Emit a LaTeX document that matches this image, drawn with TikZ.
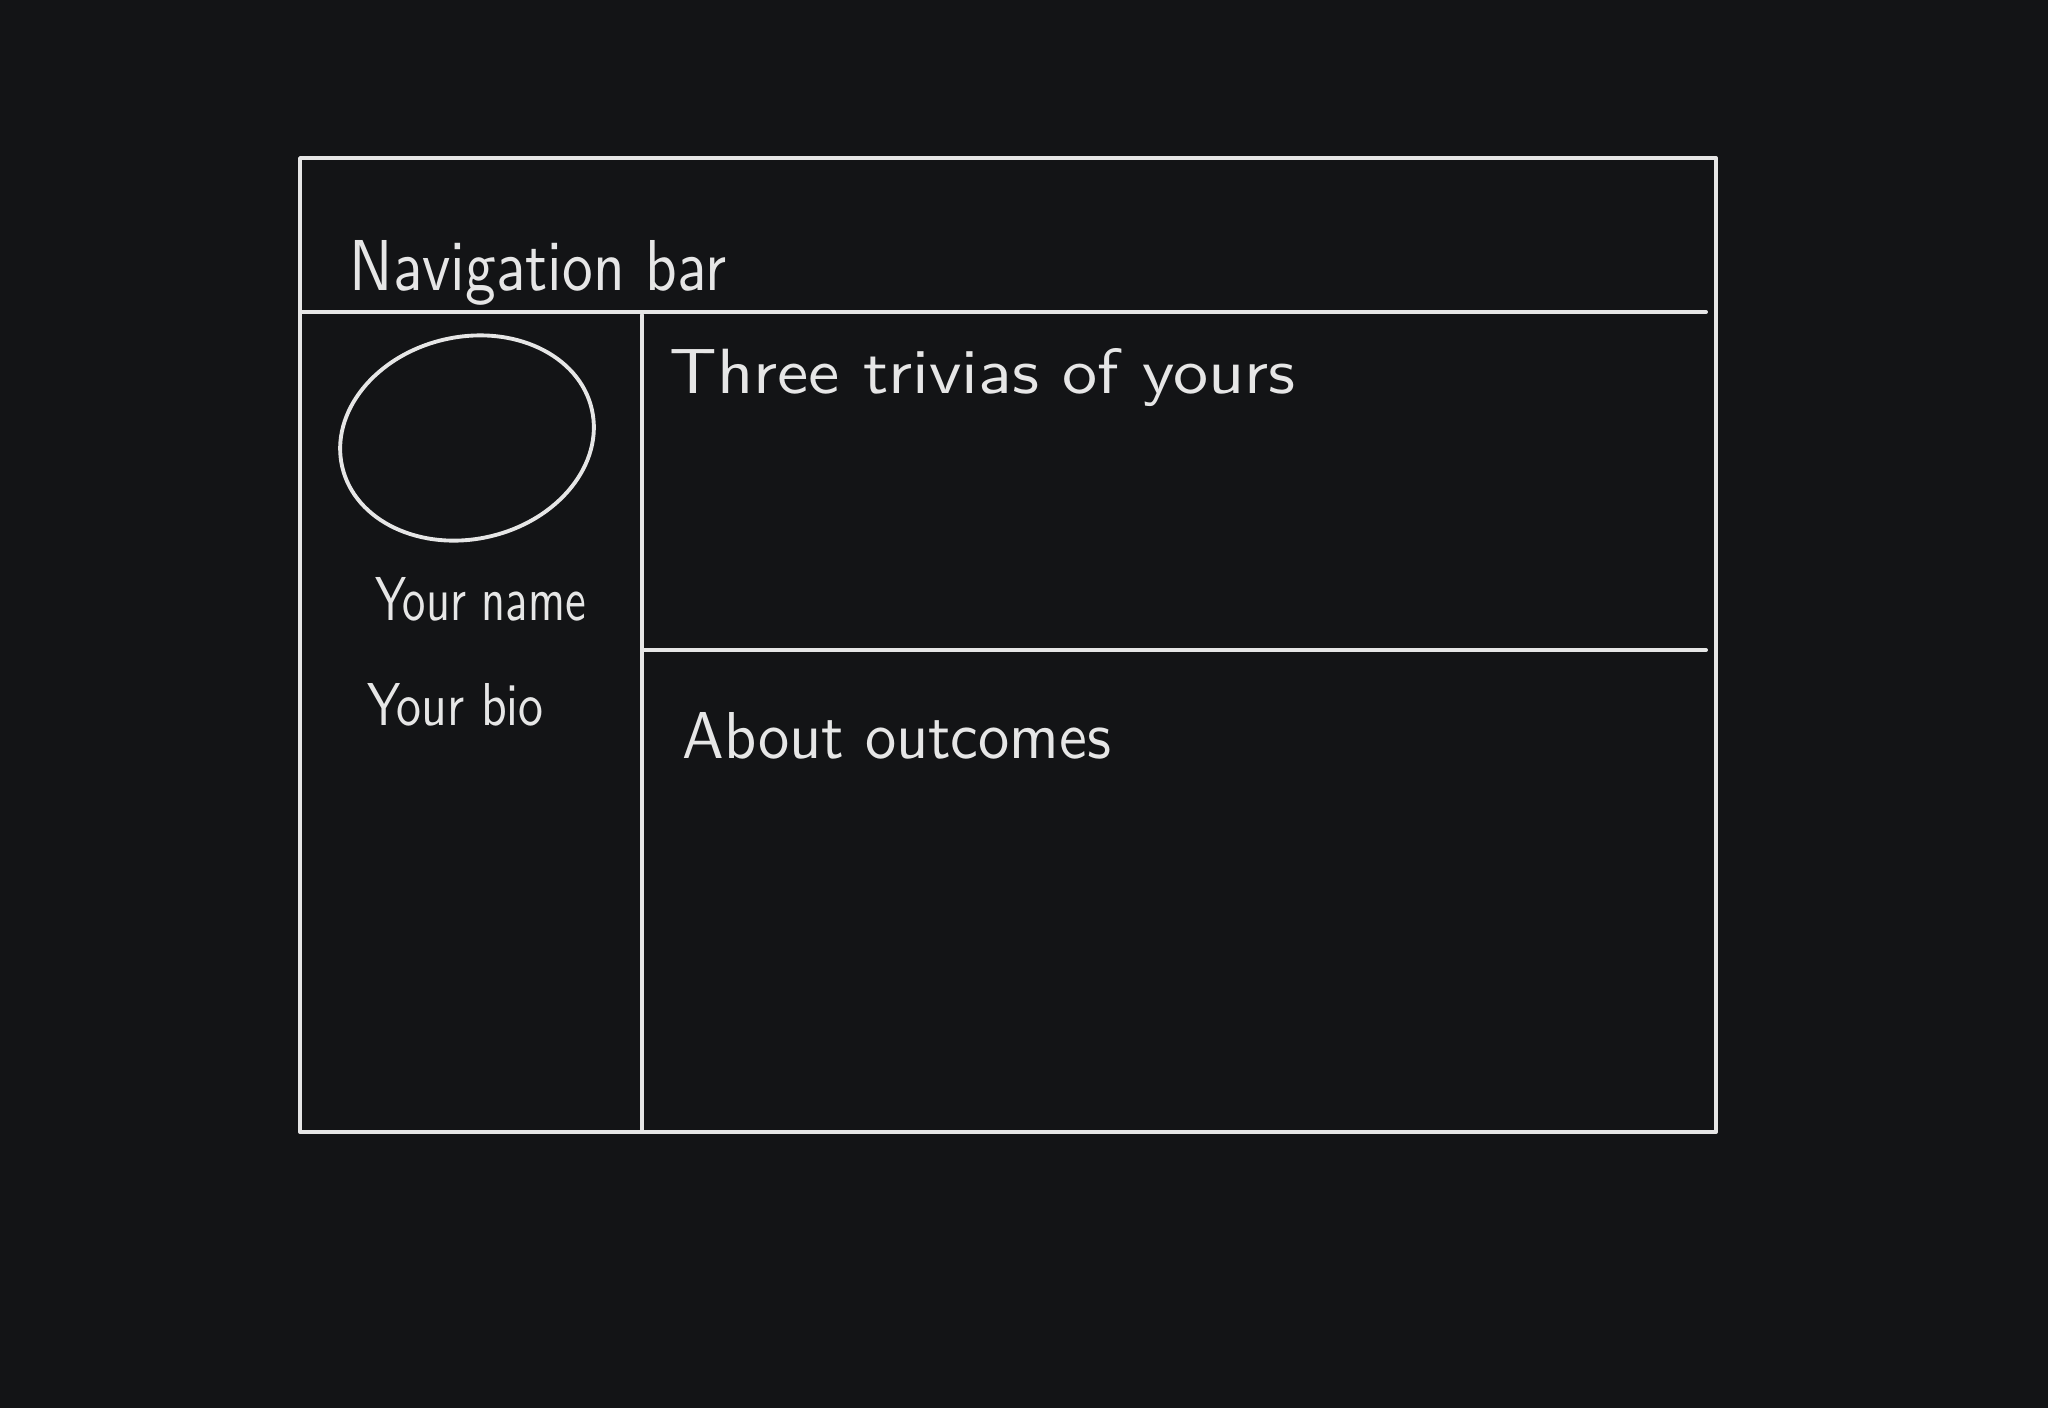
\documentclass[tikz,border=0pt]{standalone}
\usepackage{graphicx}
\usetikzlibrary{shapes.geometric}
\definecolor{bgcol}{HTML}{131416}
\definecolor{inkcol}{HTML}{E6E6E6}
\newcommand{\hw}[3]{\resizebox{#1}{#2}{#3}}
\begin{document}
\begin{tikzpicture}[x=0.01cm,y=-0.01cm,
  ink/.style={draw=inkcol,line width=1.1pt,line cap=round,line join=round},
  label/.style={text=inkcol,inner sep=0pt,anchor=base west,font=\sffamily}]
\fill[bgcol] (0,0) rectangle (2048,1408);
\useasboundingbox (0,0) rectangle (2048,1408);
% frame and dividers
\coordinate (tl) at (300,158);
\coordinate (br) at (1716,1132);
\draw[ink] (tl) rectangle (br);
\coordinate (navL) at (300,312);
\coordinate (navR) at (1706,312);
\draw[ink] (navL) -- (navR);
\coordinate (vT) at (642,315);
\coordinate (vB) at (642,1132);
\draw[ink] (vT) -- (vB);
\coordinate (midL) at (644,650);
\coordinate (midR) at (1706,650);
\draw[ink] (midL) -- (midR);
% avatar
\node[ink,ellipse,minimum width=2.56cm,minimum height=2.02cm,rotate=13,inner sep=0pt] (avatar) at (467,438) {};
% labels
\node[label] (nav) at (349,290) {\hw{3.76cm}{0.5cm}{Navigation bar}};
\node[label] (trivia) at (669,393) {\hw{6.25cm}{0.45cm}{Three trivias of yours}};
\node[label] (name) at (375,620) {\hw{2.10cm}{0.43cm}{Your name}};
\node[label] (bio) at (367,725) {\hw{1.76cm}{0.42cm}{Your bio}};
\node[label] (about) at (682,758) {\hw{4.28cm}{0.46cm}{About outcomes}};
\end{tikzpicture}
\end{document}
